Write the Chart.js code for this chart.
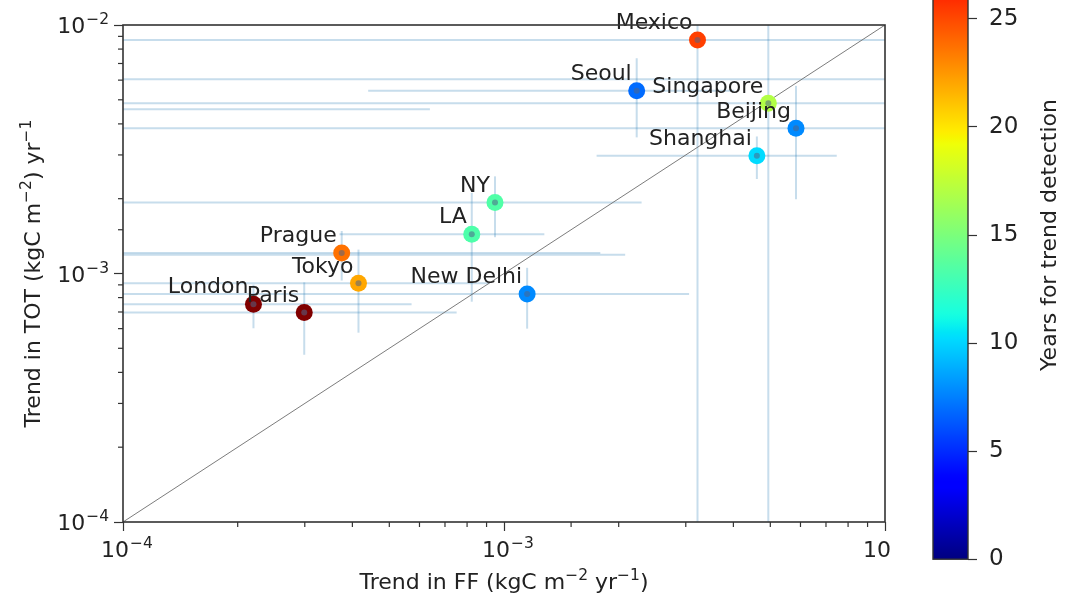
<!DOCTYPE html>
<html><head><meta charset="utf-8">
<script src="https://cdn.jsdelivr.net/npm/chart.js@4.4.1/dist/chart.umd.min.js"></script>
<style>
html,body{margin:0;padding:0;background:#fff;overflow:hidden;width:1066px;height:599px;position:relative;}
#main{position:absolute;left:0;top:0;width:900px;height:599px;}
#cbar{position:absolute;left:893px;top:-115px;width:173px;height:700px;background:#fff;}
</style></head><body>
<canvas id="main" width="900" height="599"></canvas>
<canvas id="cbar" width="173" height="700"></canvas>
<script>
// ---- data ----
const cities   = ['Mexico','Seoul','Singapore','Beijing','Shanghai','NY','LA','Prague','Tokyo','New Delhi','London','Paris'];
const ffTrend  = [3.22e-3, 2.23e-3, 4.94e-3, 5.84e-3, 4.61e-3, 9.47e-4, 8.23e-4, 3.75e-4, 4.15e-4, 1.15e-3, 2.20e-4, 2.99e-4];
const totTrend = [8.70e-3, 5.44e-3, 4.84e-3, 3.84e-3, 2.98e-3, 1.93e-3, 1.44e-3, 1.21e-3, 9.13e-4, 8.27e-4, 7.52e-4, 6.96e-4];
const ffErr    = [7.5e-3, 1.79e-3, 5.5e-3, 6.0e-3, 2.86e-3, 1.35e-3, 4.53e-4, 1.415e-3, 5.0e-4, 1.91e-3, 3.52e-4, 4.52e-4];
const totErr   = [9.5e-3, 1.91e-3, 5.2e-3, 1.85e-3, 5.8e-4, 5.3e-4, 6.7e-4, 2.73e-4, 3.35e-4, 2.27e-4, 1.5e-4, 2.25e-4];
const years    = [25.3, 6.9, 17, 7.8, 10.2, 13.4, 13.3, 23.7, 22, 7.8, 30, 30];
// horizontal error bars whose markers fall outside the axes
const offAxisTot   = [6.05e-3, 4.58e-3, 1.19e-3];
const offAxisFFHi  = [1.5e-2, 6.39e-4, 2.08e-3];
const axisMin = 1e-4, axisMax = 1e-2;
const yearsMax = 30;
const yearTicksStep = 5;
const xTitle = [{t:'Trend in FF (kgC m'},{t:'\u22122',sup:true},{t:' yr'},{t:'\u22121',sup:true},{t:')'}];
const yTitle = [{t:'Trend in TOT (kgC m'},{t:'\u22122',sup:true},{t:') yr'},{t:'\u22121',sup:true}];
const cbarTitle = 'Years for trend detection';

// ---- helpers ----
const FONT = "'DejaVu Sans', sans-serif";
const TXT = '#222';
Chart.defaults.font.family = FONT;
function interp(segs, t){
  for (let i=1;i<segs.length;i++){
    if (t <= segs[i][0]){
      const [t0,v0]=segs[i-1],[t1,v1]=segs[i];
      return v0 + (v1-v0)*(t-t0)/(t1-t0);
    }
  }
  return segs[segs.length-1][1];
}
const JR=[[0,0],[0.35,0],[0.66,1],[0.89,1],[1,0.5]];
const JG=[[0,0],[0.125,0],[0.375,1],[0.64,1],[0.91,0],[1,0]];
const JB=[[0,0.5],[0.11,1],[0.34,1],[0.65,0],[1,0]];
function jet(t){
  t=Math.max(0,Math.min(1,t));
  return `rgb(${Math.round(255*interp(JR,t))},${Math.round(255*interp(JG,t))},${Math.round(255*interp(JB,t))})`;
}
function isMajor(v){ const l=Math.log10(v); return Math.abs(l-Math.round(l))<1e-6; }
function expOf(v){ return Math.round(Math.log10(v)); }

const points = cities.map((c,i)=>({x:ffTrend[i], y:totTrend[i]}));
const colors = years.map(v=>jet(v/yearsMax));
const diag = [{x:axisMin,y:axisMin},{x:axisMax,y:axisMax}];

const BIG=`22px ${FONT}`, SMALL=`15.5px ${FONT}`;
// draws "10" with a raised exponent; anchor: 'center' (x axis) or 'right' (y axis)
function drawPow(ctx, v, x, baseY, anchor){
  const base='10', ex='\u2212'+String(Math.abs(expOf(v)));
  ctx.font=BIG; const wb=ctx.measureText(base).width;
  ctx.font=SMALL; const we=ctx.measureText(ex).width;
  const total=wb+we+1;
  let x0 = anchor==='center' ? x-total/2 : x-total;
  ctx.textAlign='left'; ctx.textBaseline='alphabetic'; ctx.fillStyle=TXT;
  ctx.font=BIG; ctx.fillText(base,x0,baseY);
  ctx.font=SMALL; ctx.fillText(ex,x0+wb+1,baseY-9);
}
function drawRich(ctx, parts, cx, cy, rot){
  let w=0;
  const ms=parts.map(p=>{ctx.font=p.sup?SMALL:BIG; const m=ctx.measureText(p.t).width; w+=m; return m;});
  ctx.save(); ctx.translate(cx,cy); ctx.rotate(rot);
  ctx.textAlign='left'; ctx.textBaseline='alphabetic'; ctx.fillStyle=TXT;
  let x=-w/2;
  parts.forEach((p,i)=>{ ctx.font=p.sup?SMALL:BIG; ctx.fillText(p.t, x, p.sup?8-9:8); x+=ms[i]; });
  ctx.restore();
}

const errBarPlugin = {
  id:'errbars',
  beforeDatasetsDraw(chart){
    const {ctx, chartArea:a, scales:{x,y}} = chart;
    const X = v=>x.getPixelForValue(Math.max(v,1e-7));
    const Y = v=>y.getPixelForValue(Math.max(v,1e-7));
    ctx.save();
    ctx.beginPath(); ctx.rect(a.left,a.top,a.right-a.left,a.bottom-a.top); ctx.clip();
    ctx.strokeStyle='rgba(31,119,180,0.25)'; ctx.lineWidth=2;
    const seg=(x0,y0,x1,y1)=>{ctx.beginPath();ctx.moveTo(x0,y0);ctx.lineTo(x1,y1);ctx.stroke();};
    for (let i=0;i<cities.length;i++){
      const xp=X(ffTrend[i]), yp=Y(totTrend[i]);
      seg(X(ffTrend[i]-ffErr[i]), yp, X(ffTrend[i]+ffErr[i]), yp);
      seg(xp, Y(totTrend[i]-totErr[i]), xp, Y(totTrend[i]+totErr[i]));
    }
    for (let i=0;i<offAxisTot.length;i++){
      const yp=Y(offAxisTot[i]);
      seg(X(0), yp, X(offAxisFFHi[i]), yp);
    }
    ctx.restore();
  }
};
const decorPlugin = {
  id:'decor',
  afterDatasetsDraw(chart){
    const {ctx, scales:{x,y}} = chart;
    ctx.save();
    ctx.font = BIG; ctx.fillStyle=TXT; ctx.textAlign='right'; ctx.textBaseline='middle';
    cities.forEach((c,i)=>{
      ctx.fillText(c, x.getPixelForValue(ffTrend[i])-5, y.getPixelForValue(totTrend[i])-16.5);
    });
    ctx.restore();
  },
  afterDraw(chart){
    const {ctx, chartArea:a, scales:{x,y}} = chart;
    ctx.save();
    ctx.strokeStyle='#333'; ctx.lineWidth=1.2;
    x.ticks.forEach(t=>{ if(!isMajor(t.value)){ const p=x.getPixelForValue(t.value); ctx.beginPath(); ctx.moveTo(p,a.bottom); ctx.lineTo(p,a.bottom+5); ctx.stroke(); }});
    y.ticks.forEach(t=>{ if(!isMajor(t.value)){ const p=y.getPixelForValue(t.value); ctx.beginPath(); ctx.moveTo(a.left,p); ctx.lineTo(a.left-5,p); ctx.stroke(); }});
    ctx.lineWidth=1.6; ctx.strokeRect(a.left,a.top,a.right-a.left,a.bottom-a.top);
    x.ticks.forEach(t=>{ if(isMajor(t.value)) drawPow(ctx, t.value, x.getPixelForValue(t.value)+4, a.bottom+35, 'center'); });
    y.ticks.forEach(t=>{ if(isMajor(t.value)) drawPow(ctx, t.value, a.left-14, y.getPixelForValue(t.value)+8, 'right'); });
    drawRich(ctx, xTitle, (a.left+a.right)/2, 581, 0);
    drawRich(ctx, yTitle, 32, (a.top+a.bottom)/2, -Math.PI/2);
    ctx.restore();
  }
};
const tickColor = c => (c.tick && isMajor(c.tick.value)) ? '#333' : 'rgba(0,0,0,0)';

new Chart(document.getElementById('main'), {
  type:'scatter',
  data:{datasets:[
    {type:'line', data:diag, borderColor:'rgba(110,110,110,0.9)', borderWidth:1, pointRadius:0, order:2},
    {data:points, pointRadius:8.5, pointBackgroundColor:colors, pointBorderWidth:0, order:1},
    {data:points, pointRadius:3, pointBackgroundColor:'rgba(80,100,135,0.55)', pointBorderWidth:0, order:0}
  ]},
  options:{
    responsive:false, animation:false, events:[],
    layout:{padding:{top:25,right:15,left:0,bottom:0}},
    plugins:{legend:{display:false}, tooltip:{enabled:false}},
    scales:{
      x:{type:'logarithmic', min:axisMin, max:axisMax,
         afterFit:s=>{s.height=77;},
         grid:{display:true, drawOnChartArea:false, drawTicks:true, tickLength:9, tickWidth:1.2, tickColor},
         border:{display:false},
         ticks:{display:false, autoSkip:false},
         title:{display:false}},
      y:{type:'logarithmic', min:axisMin, max:axisMax,
         afterFit:s=>{s.width=123;},
         grid:{display:true, drawOnChartArea:false, drawTicks:true, tickLength:9, tickWidth:1.2, tickColor},
         border:{display:false},
         ticks:{display:false, autoSkip:false},
         title:{display:false}}
    }
  },
  plugins:[errBarPlugin, decorPlugin]
});

const cbarPlugin = {
  id:'cbar',
  beforeDatasetsDraw(chart){
    const {ctx, chartArea:a, scales:{y}} = chart;
    const y0=y.getPixelForValue(0), y1=y.getPixelForValue(yearsMax);
    const g=ctx.createLinearGradient(0,y0,0,y1);
    for(let i=0;i<=100;i++){ g.addColorStop(i/100, jet(i/100)); }
    ctx.save();
    ctx.fillStyle=g; ctx.fillRect(a.left,a.top,a.right-a.left,a.bottom-a.top);
    ctx.strokeStyle='#333'; ctx.lineWidth=1.4; ctx.strokeRect(a.left,a.top,a.right-a.left,a.bottom-a.top);
    ctx.translate(157,(a.top+a.bottom)/2); ctx.rotate(-Math.PI/2);
    ctx.font=BIG; ctx.fillStyle=TXT; ctx.textAlign='center'; ctx.textBaseline='middle';
    ctx.fillText(cbarTitle,0,0);
    ctx.restore();
  }
};
new Chart(document.getElementById('cbar'), {
  type:'scatter',
  data:{datasets:[{data:[]}]},
  options:{
    responsive:false, animation:false, events:[],
    layout:{padding:{top:15,bottom:17,left:40,right:0}},
    plugins:{legend:{display:false}, tooltip:{enabled:false}},
    scales:{
      x:{display:false, min:0, max:1},
      y:{position:'right', min:0, max:yearsMax,
         afterFit:s=>{s.width=98;},
         grid:{display:true, drawOnChartArea:false, drawTicks:true, tickLength:9, tickWidth:1.2, tickColor:'#333'},
         border:{display:false},
         ticks:{stepSize:yearTicksStep, padding:12, color:TXT, font:{size:23}}}
    }
  },
  plugins:[cbarPlugin]
});
</script>
</body></html>
